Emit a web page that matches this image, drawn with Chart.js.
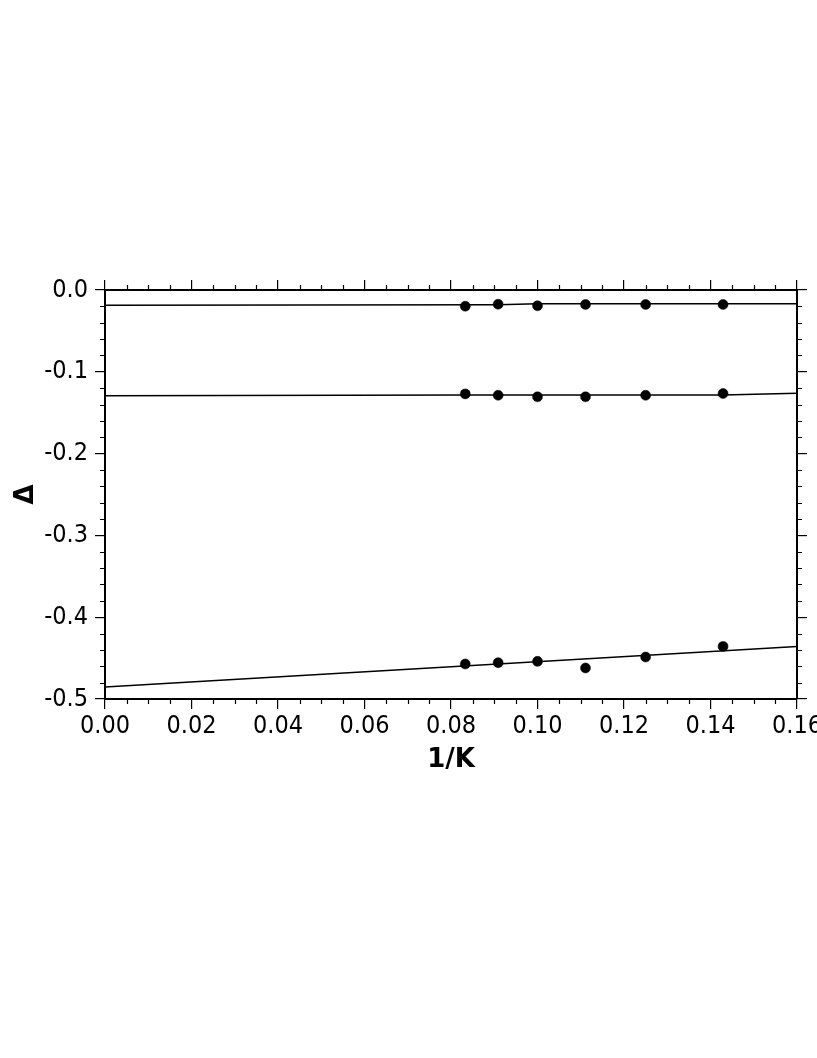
<!DOCTYPE html>
<html>
<head>
<meta charset="utf-8">
<script src="https://cdn.jsdelivr.net/npm/chart.js@4.4.0/dist/chart.umd.min.js"></script>
<style>
  html, body { margin: 0; padding: 0; background: #fff; overflow: hidden; }
  canvas { display: block; }
</style>
</head>
<body>
<canvas id="c" width="817" height="1058"></canvas>
<script>
/* Delta vs 1/K */

var invK = [0.0833, 0.0909, 0.1000, 0.1111, 0.1250, 0.1429];
var deltaTop = [-0.0198, -0.0174, -0.0193, -0.0177, -0.0177, -0.0177];
var deltaMid = [-0.1270, -0.1287, -0.1306, -0.1306, -0.1287, -0.1266];
var deltaBot = [-0.4572, -0.4556, -0.4540, -0.4621, -0.4487, -0.4357];

var fitTopX = [0, 0.0909, 0.1000, 0.16];
var fitTopY = [-0.0186, -0.0180, -0.0169, -0.0168];
var fitMidX = [0, 0.0833, 0.1429, 0.16];
var fitMidY = [-0.1292, -0.1285, -0.1285, -0.1262];
var fitBotX = [0, 0.16];
var fitBotY = [-0.4853, -0.4357];

var xTicks = [0, 0.02, 0.04, 0.06, 0.08, 0.10, 0.12, 0.14, 0.16];
var yTicks = [0.0, -0.1, -0.2, -0.3, -0.4, -0.5];

var TICK_FONT = { family: "'DejaVu Sans Condensed', 'DejaVu Sans', sans-serif", size: 25 };
var TITLE_FONT = { family: "'DejaVu Sans', sans-serif", size: 26, weight: "bold" };

function pts(xs, ys) {
  return xs.map(function(x, i) { return { x: x, y: ys[i] }; });
}

function dots(ys) {
  return {
    data: pts(invK, ys),
    showLine: false,
    pointRadius: 5,
    pointBorderWidth: 0.5,
    pointBackgroundColor: "#000",
    pointBorderColor: "#000"
  };
}

function fit(xs, ys) {
  return {
    data: pts(xs, ys),
    showLine: true,
    borderColor: "#000",
    borderWidth: 1.5,
    pointRadius: 0,
    fill: false
  };
}

function grid() {
  return { drawOnChartArea: false, drawTicks: true, tickLength: 10, color: "#000", lineWidth: 1.2 };
}

var border = { display: true, color: "#000", width: 2 };

function noPadX(s) { s.paddingLeft = 0; s.paddingRight = 0; }
function noPadY(s) { s.paddingTop = 0; s.paddingBottom = 0; }

var minorTicks = {
  id: "minorTicks",
  afterDraw: function(ch) {
    var c = ch.ctx, a = ch.chartArea, sx = ch.scales.x, sy = ch.scales.y;
    c.save();
    c.strokeStyle = "#000";
    c.lineWidth = 1.2;
    c.beginPath();
    for (var i = 0; i <= 32; i++) {
      if (i % 4 === 0) continue;
      var px = Math.round(sx.getPixelForValue(i * 0.005)) + 0.5;
      c.moveTo(px, a.top); c.lineTo(px, a.top - 5);
      c.moveTo(px, a.bottom); c.lineTo(px, a.bottom + 5);
    }
    for (var j = 0; j <= 25; j++) {
      if (j % 5 === 0) continue;
      var py = Math.round(sy.getPixelForValue(-j * 0.02)) + 0.5;
      c.moveTo(a.left, py); c.lineTo(a.left - 5, py);
      c.moveTo(a.right, py); c.lineTo(a.right + 5, py);
    }
    c.stroke();
    c.restore();
  }
};

new Chart(document.getElementById("c"), {
  type: "scatter",
  data: {
    datasets: [
      fit(fitTopX, fitTopY),
      fit(fitMidX, fitMidY),
      fit(fitBotX, fitBotY),
      dots(deltaTop),
      dots(deltaMid),
      dots(deltaBot)
    ]
  },
  options: {
    responsive: false,
    animation: false,
    layout: { padding: { top: 280, left: 0, right: 10, bottom: 279 } },
    scales: {
      x: {
        type: "linear", position: "bottom", min: 0, max: 0.16,
        afterBuildTicks: function(s) { s.ticks = xTicks.map(function(v) { return { value: v }; }); },
        ticks: {
          color: "#000", font: TICK_FONT, padding: 2, maxRotation: 0, autoSkip: false,
          callback: function(v) { return v.toFixed(2); }
        },
        grid: grid(), border: border,
        title: { display: true, text: "1/K", color: "#000", font: TITLE_FONT, padding: { top: 0, bottom: 3 } },
        afterFit: function(s) { s.height = 80; noPadX(s); }
      },
      x2: {
        type: "linear", position: "top", min: 0, max: 0.16,
        afterBuildTicks: function(s) { s.ticks = xTicks.map(function(v) { return { value: v }; }); },
        ticks: { display: false },
        grid: grid(), border: border,
        afterFit: function(s) { s.height = 10; noPadX(s); }
      },
      y: {
        type: "linear", position: "left", min: -0.5, max: 0,
        afterBuildTicks: function(s) { s.ticks = yTicks.map(function(v) { return { value: v }; }); },
        ticks: {
          color: "#000", font: TICK_FONT, padding: 7, autoSkip: false,
          callback: function(v) { return Math.abs(v) < 1e-9 ? "0.0" : v.toFixed(1); }
        },
        grid: grid(), border: border,
        title: { display: true, text: "Δ", color: "#000", font: TITLE_FONT, padding: { top: 11, bottom: 0 } },
        afterFit: function(s) { s.width = 105; noPadY(s); }
      },
      y2: {
        type: "linear", position: "right", min: -0.5, max: 0,
        afterBuildTicks: function(s) { s.ticks = yTicks.map(function(v) { return { value: v }; }); },
        ticks: { display: false },
        grid: grid(), border: border,
        afterFit: function(s) { s.width = 10; noPadY(s); }
      }
    },
    plugins: {
      legend: { display: false },
      tooltip: { enabled: false }
    }
  },
  plugins: [minorTicks]
});
</script>
</body>
</html>
